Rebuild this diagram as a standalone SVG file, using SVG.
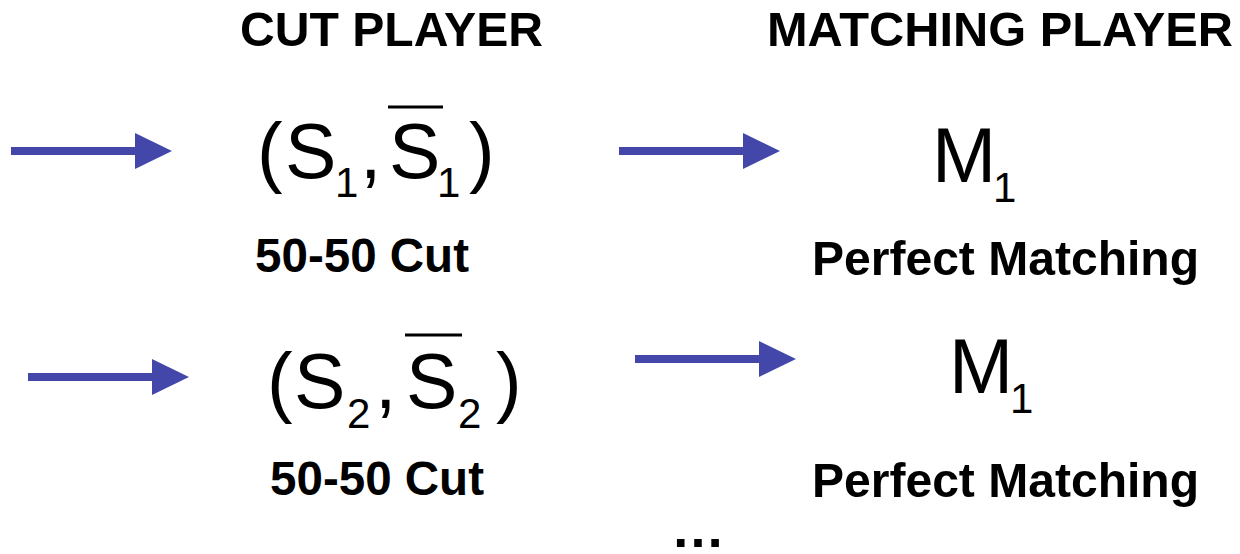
<svg xmlns="http://www.w3.org/2000/svg" width="1240" height="554" viewBox="0 0 1240 554">
<style>
.hd{font-family:"Liberation Sans",Arial,sans-serif;font-weight:bold;font-size:48px;fill:#000}
.lb{font-family:"Liberation Sans",Arial,sans-serif;font-weight:bold;font-size:48px;fill:#000}
.mt{font-family:"Liberation Sans",Arial,sans-serif;font-size:77px;fill:#000}
.sb{font-family:"Liberation Sans",Arial,sans-serif;font-size:42px;fill:#000}
.ar{stroke:#4447AA;stroke-width:8;fill:none}
.bar{stroke:#000;stroke-width:3}
</style>
<defs>
<marker id="head" viewBox="0 0 37 36" markerWidth="37" markerHeight="36" refX="0" refY="18" markerUnits="userSpaceOnUse" orient="auto">
<path d="M0,0 L37,18 L0,36 Z" fill="#4447AA"/>
</marker>
</defs>
<rect width="1240" height="554" fill="#fff"/>
<g id="headers">
<text class="hd" x="240" y="46" textLength="303" lengthAdjust="spacingAndGlyphs">CUT PLAYER</text>
<text class="hd" x="767" y="46" textLength="466" lengthAdjust="spacingAndGlyphs">MATCHING PLAYER</text>
</g>
<g id="connectors">
<line class="ar" x1="11" y1="151" x2="135" y2="151" marker-end="url(#head)"/>
<line class="ar" x1="619" y1="151" x2="743" y2="151" marker-end="url(#head)"/>
<line class="ar" x1="28" y1="377" x2="152" y2="377" marker-end="url(#head)"/>
<line class="ar" x1="635" y1="359" x2="759" y2="359" marker-end="url(#head)"/>
</g>
<g id="cut1">
<text class="mt" x="257" y="178">(</text>
<text class="mt" x="285" y="178">S</text>
<text class="sb" x="335" y="197">1</text>
<text class="mt" x="360" y="178">,</text>
<text class="mt" x="389" y="178">S</text>
<line class="bar" x1="388" y1="107" x2="443" y2="107"/>
<text class="sb" x="437" y="197">1</text>
<text class="mt" x="469" y="178">)</text>
<text class="lb" x="255" y="272" textLength="214" lengthAdjust="spacingAndGlyphs">50-50 Cut</text>
</g>
<g id="match1">
<text class="mt" x="932" y="182">M</text>
<text class="sb" x="993" y="202">1</text>
<text class="lb" x="812" y="275" textLength="387" lengthAdjust="spacingAndGlyphs">Perfect Matching</text>
</g>
<g id="cut2">
<text class="mt" x="267" y="408">(</text>
<text class="mt" x="294" y="408">S</text>
<text class="sb" x="347" y="428">2</text>
<text class="mt" x="375" y="408">,</text>
<text class="mt" x="406" y="408">S</text>
<line class="bar" x1="405" y1="335" x2="462" y2="335"/>
<text class="sb" x="458" y="428">2</text>
<text class="mt" x="496" y="408">)</text>
<text class="lb" x="270" y="495" textLength="214" lengthAdjust="spacingAndGlyphs">50-50 Cut</text>
</g>
<g id="match2">
<text class="mt" x="949" y="393">M</text>
<text class="sb" x="1010" y="413">1</text>
<text class="lb" x="812" y="497" textLength="387" lengthAdjust="spacingAndGlyphs">Perfect Matching</text>
</g>
<g id="more">
<text class="lb" x="671" y="547" style="font-size:54px">…</text>
</g>
</svg>
